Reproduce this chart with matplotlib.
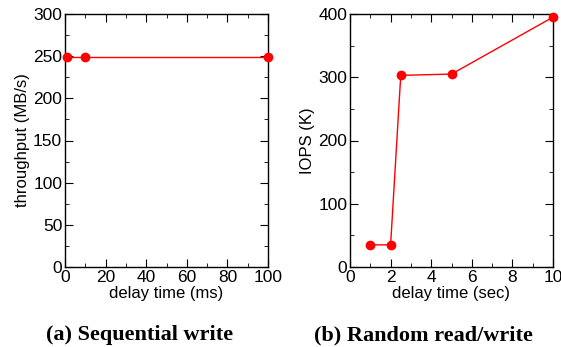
import matplotlib
matplotlib.use('Agg')
import matplotlib.pyplot as plt
from matplotlib.ticker import MultipleLocator

# (a) sequential write
seq_delay = [1, 10, 100]
seq_tput = [249, 249, 249]

# (b) random read/write
rnd_delay = [1, 2, 2.5, 5, 10]
rnd_iops = [35, 35, 303, 305, 395]

plt.rcParams['font.family'] = ['Liberation Sans', 'DejaVu Sans']
plt.rcParams['font.size'] = 12

fig = plt.figure(figsize=(5.61, 3.47), dpi=100)
W, H = 561.0, 347.0
ax1 = fig.add_axes([65 / W, 1 - 267 / H, 203 / W, 253 / H])
ax2 = fig.add_axes([350 / W, 1 - 267 / H, 203 / W, 253 / H])

ax1.plot(seq_delay, seq_tput, color='red', lw=1, marker='o', ms=6, clip_on=False, zorder=3)
ax1.set_xlim(0, 100)
ax1.set_ylim(0, 300)
ax1.xaxis.set_major_locator(MultipleLocator(20))
ax1.xaxis.set_minor_locator(MultipleLocator(10))
ax1.yaxis.set_major_locator(MultipleLocator(50))
ax1.yaxis.set_minor_locator(MultipleLocator(25))
ax1.set_xlabel('delay time (ms)', labelpad=1)
ax1.set_ylabel('throughput (MB/s)', labelpad=2)

ax2.plot(rnd_delay, rnd_iops, color='red', lw=1, marker='o', ms=6, clip_on=False, zorder=3)
ax2.set_xlim(0, 10)
ax2.set_ylim(0, 400)
ax2.xaxis.set_major_locator(MultipleLocator(2))
ax2.xaxis.set_minor_locator(MultipleLocator(1))
ax2.yaxis.set_major_locator(MultipleLocator(100))
ax2.yaxis.set_minor_locator(MultipleLocator(50))
ax2.set_xlabel('delay time (sec)', labelpad=1)
ax2.set_ylabel('IOPS (K)', labelpad=2)

for ax in (ax1, ax2):
    ax.tick_params(which='both', direction='in', top=True, right=True, labelsize=12.5, pad=2)
    ax.tick_params(which='major', length=6)
    ax.tick_params(which='minor', length=3)
    for s in ax.spines.values():
        s.set_linewidth(1)

fig.text(140 / W, 1 - 335 / H, '(a) Sequential write', ha='center', va='center',
         family='Liberation Serif', fontweight='bold', fontsize=16)
fig.text(423 / W, 1 - 335 / H, '(b) Random read/write', ha='center', va='center',
         family='Liberation Serif', fontweight='bold', fontsize=16)

fig.savefig('out.png', dpi=100)
